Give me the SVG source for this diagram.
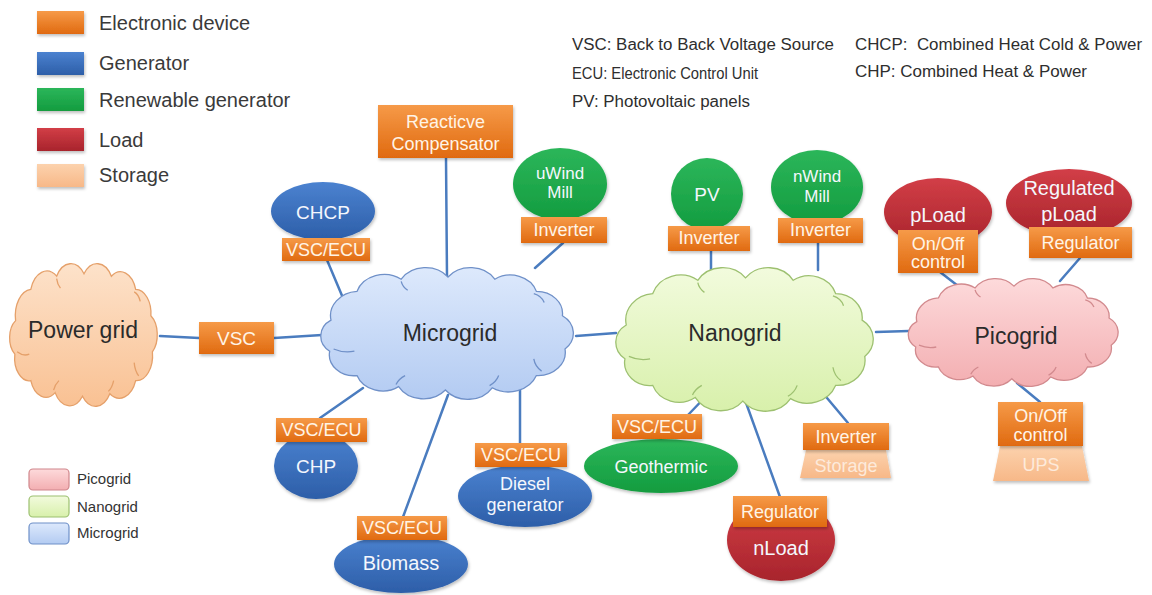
<svg xmlns="http://www.w3.org/2000/svg" xmlns:xlink="http://www.w3.org/1999/xlink" width="1152" height="595" viewBox="0 0 1152 595">
  <defs>
    <linearGradient id="gOrange" x1="0" y1="0" x2="0" y2="1">
      <stop offset="0" stop-color="#f69a48"/>
      <stop offset="1" stop-color="#e06a10"/>
    </linearGradient>
    <linearGradient id="gBlue" x1="0" y1="0" x2="0" y2="1">
      <stop offset="0" stop-color="#4b82d0"/>
      <stop offset="1" stop-color="#2d5ea8"/>
    </linearGradient>
    <linearGradient id="gGreen" x1="0" y1="0" x2="0" y2="1">
      <stop offset="0" stop-color="#2cb65a"/>
      <stop offset="1" stop-color="#139c3f"/>
    </linearGradient>
    <linearGradient id="gRed" x1="0" y1="0" x2="0" y2="1">
      <stop offset="0" stop-color="#d23e47"/>
      <stop offset="1" stop-color="#a8242c"/>
    </linearGradient>
    <linearGradient id="gStore" x1="0" y1="0" x2="0" y2="1">
      <stop offset="0" stop-color="#fcd2ad"/>
      <stop offset="1" stop-color="#f7b888"/>
    </linearGradient>
    <linearGradient id="gMicro" x1="0" y1="0" x2="0" y2="1">
      <stop offset="0" stop-color="#dde9fc"/>
      <stop offset="1" stop-color="#b3cbf2"/>
    </linearGradient>
    <linearGradient id="gNano" x1="0" y1="0" x2="0" y2="1">
      <stop offset="0" stop-color="#f2fbdd"/>
      <stop offset="1" stop-color="#d8f0ab"/>
    </linearGradient>
    <linearGradient id="gPico" x1="0" y1="0" x2="0" y2="1">
      <stop offset="0" stop-color="#fddadb"/>
      <stop offset="1" stop-color="#f3aeb1"/>
    </linearGradient>
    <linearGradient id="gPower" x1="0" y1="0" x2="0" y2="1">
      <stop offset="0" stop-color="#fde2ca"/>
      <stop offset="1" stop-color="#f9c193"/>
    </linearGradient>
    <filter id="shadow" x="-20%" y="-20%" width="140%" height="150%">
      <feDropShadow dx="1" dy="2" stdDeviation="1.5" flood-color="#000" flood-opacity="0.25"/>
    </filter>
    <!-- generic cloud outline in a 200x120 box -->
    <path id="cloud" vector-effect="non-scaling-stroke"
      d="M10,48 A22,22 0 0 1 30,22 A22,22 0 0 1 64,11 A22,22 0 0 1 100,9 A22,22 0 0 1 136,11 A21,21 0 0 1 168,22 A20,20 0 0 1 188,44 A19,19 0 0 1 190,74 A21,21 0 0 1 168,98 A23,23 0 0 1 134,109 A22,22 0 0 1 98,111 A22,22 0 0 1 62,108 A21,21 0 0 1 30,98 A19,19 0 0 1 9,76 A17,17 0 0 1 10,48 Z"/>
    <!-- inner fold strokes of the cloud -->
    <path id="crease" vector-effect="non-scaling-stroke" fill="none"
      d="M12,74 q8,4 16,2 M60,106 q2,-5 7,-8 M132,107 q5,-3 7,-9 M172,94 q-5,-4 -6,-11 M166,24 q6,2 8,8 M64,13 q1,5 5,8"/>
  </defs>
  <style>
    text { font-family: "Liberation Sans", Arial, sans-serif; }
    .leg { font-size: 20px; fill: #3a3a3a; }
    .abbr { font-size: 16px; fill: #2e2e2e; }
    .small { font-size: 15px; fill: #333; }
    .cl { font-size: 23px; fill: #2b2b2b; text-anchor: middle; }
    .bx { fill: url(#gOrange); filter: url(#shadow); }
    .bt { font-size: 18px; fill: #fff4e6; text-anchor: middle; }
    .gen { fill: url(#gBlue); filter: url(#shadow); }
    .ren { fill: url(#gGreen); filter: url(#shadow); }
    .load { fill: url(#gRed); filter: url(#shadow); }
    .store { fill: url(#gStore); filter: url(#shadow); }
    .et { font-size: 18px; fill: #f4f7fd; text-anchor: middle; }
    .st { font-size: 18px; fill: #fdeadb; text-anchor: middle; }
    .link { stroke: #4a7cbf; stroke-width: 2.5; fill: none; stroke-linecap: round; }
    .cloudline { stroke-width: 1.3; }
  </style>

  <rect width="1152" height="595" fill="#ffffff"/>

  <!-- category legend -->
  <g id="legend-types">
    <rect x="37" y="11" width="47" height="23" fill="url(#gOrange)" filter="url(#shadow)"/>
    <text class="leg" x="99" y="30">Electronic device</text>
    <rect x="37" y="52" width="47" height="23" fill="url(#gBlue)" filter="url(#shadow)"/>
    <text class="leg" x="99" y="70">Generator</text>
    <rect x="37" y="88" width="47" height="23" fill="url(#gGreen)" filter="url(#shadow)"/>
    <text class="leg" x="99" y="107">Renewable generator</text>
    <rect x="37" y="128" width="47" height="23" fill="url(#gRed)" filter="url(#shadow)"/>
    <text class="leg" x="99" y="147">Load</text>
    <rect x="37" y="164" width="47" height="23" fill="url(#gStore)" filter="url(#shadow)"/>
    <text class="leg" x="99" y="182">Storage</text>
  </g>

  <!-- abbreviations -->
  <g id="abbreviations">
    <text class="abbr" x="572" y="50" textLength="262" lengthAdjust="spacingAndGlyphs">VSC: Back to Back Voltage Source</text>
    <text class="abbr" x="572" y="79" textLength="186" lengthAdjust="spacingAndGlyphs">ECU: Electronic Control Unit</text>
    <text class="abbr" x="572" y="107" textLength="178" lengthAdjust="spacingAndGlyphs">PV: Photovoltaic panels</text>
    <text class="abbr" x="855" y="50" textLength="287" lengthAdjust="spacingAndGlyphs" style="white-space:pre">CHCP:  Combined Heat Cold &amp; Power</text>
    <text class="abbr" x="855" y="77" textLength="232" lengthAdjust="spacingAndGlyphs">CHP: Combined Heat &amp; Power</text>
  </g>

  <!-- grid legend -->
  <g id="legend-grids">
    <rect x="29" y="469" width="40" height="21" rx="4" fill="url(#gPico)" stroke="#d0868b" stroke-width="1.2"/>
    <text class="small" x="77" y="484">Picogrid</text>
    <rect x="29" y="496" width="40" height="21" rx="4" fill="url(#gNano)" stroke="#9cc070" stroke-width="1.2"/>
    <text class="small" x="77" y="512">Nanogrid</text>
    <rect x="29" y="523" width="40" height="21" rx="4" fill="url(#gMicro)" stroke="#6e90c8" stroke-width="1.2"/>
    <text class="small" x="77" y="538">Microgrid</text>
  </g>

  <!-- connectors -->
  <g id="connectors">
    <line class="link" x1="160" y1="336" x2="199" y2="338"/>
    <line class="link" x1="274" y1="338" x2="322" y2="335"/>
    <line class="link" x1="327" y1="260" x2="343" y2="298"/>
    <line class="link" x1="446" y1="158" x2="447" y2="277"/>
    <line class="link" x1="563" y1="243" x2="535" y2="268"/>
    <line class="link" x1="576" y1="336" x2="616" y2="333"/>
    <line class="link" x1="363" y1="388" x2="320" y2="418"/>
    <line class="link" x1="448" y1="395" x2="403" y2="517"/>
    <line class="link" x1="520" y1="385" x2="520" y2="443"/>
    <line class="link" x1="711" y1="250" x2="711" y2="274"/>
    <line class="link" x1="818" y1="243" x2="818" y2="270"/>
    <line class="link" x1="876" y1="332" x2="909" y2="331"/>
    <line class="link" x1="712" y1="390" x2="688" y2="415"/>
    <line class="link" x1="745" y1="400" x2="780" y2="497"/>
    <line class="link" x1="822" y1="392" x2="848" y2="423"/>
    <line class="link" x1="940" y1="272" x2="962" y2="289"/>
    <line class="link" x1="1080" y1="258" x2="1060" y2="281"/>
    <line class="link" x1="1017" y1="383" x2="1040" y2="402"/>
  </g>

  <!-- grids -->
  <g id="power-grid">
    <use href="#cloud" transform="translate(8,263) scale(0.76,1.2)" fill="url(#gPower)" stroke="#e5a06a" class="cloudline"/>
    <use href="#crease" transform="translate(8,263) scale(0.76,1.2)" stroke="#e5a06a" class="cloudline"/>
    <text class="cl" x="83" y="338">Power grid</text>
  </g>
  <g id="microgrid">
    <use href="#cloud" transform="translate(318,267) scale(1.3,1.108)" fill="url(#gMicro)" stroke="#6f90c8" class="cloudline"/>
    <use href="#crease" transform="translate(318,267) scale(1.3,1.108)" stroke="#6f90c8" class="cloudline"/>
    <text class="cl" x="450" y="341">Microgrid</text>
  </g>
  <g id="nanogrid">
    <use href="#cloud" transform="translate(613,267) scale(1.325,1.208)" fill="url(#gNano)" stroke="#9dc070" class="cloudline"/>
    <use href="#crease" transform="translate(613,267) scale(1.325,1.208)" stroke="#9dc070" class="cloudline"/>
    <text class="cl" x="735" y="341">Nanogrid</text>
  </g>
  <g id="picogrid">
    <use href="#cloud" transform="translate(906,278) scale(1.08,0.908)" fill="url(#gPico)" stroke="#d28a8e" class="cloudline"/>
    <use href="#crease" transform="translate(906,278) scale(1.08,0.908)" stroke="#d28a8e" class="cloudline"/>
    <text class="cl" x="1016" y="344">Picogrid</text>
  </g>

  <!-- microgrid devices -->
  <g id="vsc-main">
    <rect class="bx" x="199" y="322" width="75" height="32"/>
    <text class="bt" x="236.5" y="345" style="font-size:19px">VSC</text>
  </g>
  <g id="reactive-compensator">
    <rect class="bx" x="378" y="105" width="135" height="53"/>
    <text class="bt" x="445.5" y="128">Reacticve</text>
    <text class="bt" x="445.5" y="150">Compensator</text>
  </g>
  <g id="chcp">
    <ellipse class="gen" cx="323" cy="211" rx="52" ry="29"/>
    <text class="et" x="323" y="219" style="font-size:19px">CHCP</text>
    <rect class="bx" x="282" y="238" width="88" height="23"/>
    <text class="bt" x="326" y="256">VSC/ECU</text>
  </g>
  <g id="uwind-mill">
    <ellipse class="ren" cx="560" cy="184" rx="47" ry="36"/>
    <text class="et" x="560" y="179" style="font-size:17px">uWind</text>
    <text class="et" x="560" y="198" style="font-size:17px">Mill</text>
    <rect class="bx" x="521" y="217" width="86" height="26"/>
    <text class="bt" x="564" y="236">Inverter</text>
  </g>
  <g id="chp">
    <ellipse class="gen" cx="316" cy="466" rx="42" ry="33"/>
    <text class="et" x="316" y="473" style="font-size:19px">CHP</text>
    <rect class="bx" x="276" y="418" width="91" height="24"/>
    <text class="bt" x="321.5" y="436">VSC/ECU</text>
  </g>
  <g id="biomass">
    <ellipse class="gen" cx="401" cy="564" rx="67" ry="29"/>
    <text class="et" x="401" y="570" style="font-size:20px">Biomass</text>
    <rect class="bx" x="357" y="516" width="90" height="24"/>
    <text class="bt" x="402" y="534">VSC/ECU</text>
  </g>
  <g id="diesel-generator">
    <ellipse class="gen" cx="525" cy="496" rx="67" ry="31"/>
    <text class="et" x="525" y="490">Diesel</text>
    <text class="et" x="525" y="511">generator</text>
    <rect class="bx" x="475" y="443" width="92" height="24"/>
    <text class="bt" x="521" y="461">VSC/ECU</text>
  </g>

  <!-- nanogrid devices -->
  <g id="pv">
    <circle class="ren" cx="707" cy="194" r="36"/>
    <text class="et" x="707" y="201" style="font-size:19px">PV</text>
    <rect class="bx" x="668" y="226" width="82" height="25"/>
    <text class="bt" x="709" y="244">Inverter</text>
  </g>
  <g id="nwind-mill">
    <ellipse class="ren" cx="817" cy="187" rx="46" ry="37"/>
    <text class="et" x="817" y="182" style="font-size:17px">nWind</text>
    <text class="et" x="817" y="202" style="font-size:17px">Mill</text>
    <rect class="bx" x="778" y="218" width="85" height="25"/>
    <text class="bt" x="820.5" y="236">Inverter</text>
  </g>
  <g id="geothermic">
    <ellipse class="ren" cx="661" cy="466" rx="77" ry="27"/>
    <text class="et" x="661" y="473">Geothermic</text>
    <rect class="bx" x="612" y="414" width="90" height="25"/>
    <text class="bt" x="657" y="433">VSC/ECU</text>
  </g>
  <g id="nload">
    <ellipse class="load" cx="781" cy="540" rx="54" ry="41"/>
    <text class="et" x="781" y="555" style="font-size:20px">nLoad</text>
    <rect class="bx" x="733" y="496" width="94" height="31"/>
    <text class="bt" x="780" y="518">Regulator</text>
  </g>
  <g id="storage">
    <polygon class="store" points="806,450 886,450 891,478 800,478"/>
    <text class="st" x="846" y="472">Storage</text>
    <rect class="bx" x="803" y="423" width="86" height="27"/>
    <text class="bt" x="846" y="443">Inverter</text>
  </g>

  <!-- picogrid devices -->
  <g id="pload">
    <ellipse class="load" cx="938" cy="212" rx="54" ry="34"/>
    <text class="et" x="938" y="222" style="font-size:20px">pLoad</text>
    <rect class="bx" x="898" y="230" width="80" height="43"/>
    <text class="bt" x="938" y="250">On/Off</text>
    <text class="bt" x="938" y="268">control</text>
  </g>
  <g id="regulated-pload">
    <ellipse class="load" cx="1069" cy="203" rx="63" ry="34"/>
    <text class="et" x="1069" y="195" style="font-size:20px">Regulated</text>
    <text class="et" x="1069" y="221" style="font-size:20px">pLoad</text>
    <rect class="bx" x="1029" y="227" width="103" height="31"/>
    <text class="bt" x="1080.5" y="249">Regulator</text>
  </g>
  <g id="ups">
    <polygon class="store" points="1000,446 1082,446 1089,481 993,481"/>
    <text class="st" x="1041" y="471">UPS</text>
    <rect class="bx" x="998" y="402" width="85" height="44"/>
    <text class="bt" x="1040.5" y="422">On/Off</text>
    <text class="bt" x="1040.5" y="441">control</text>
  </g>
</svg>
